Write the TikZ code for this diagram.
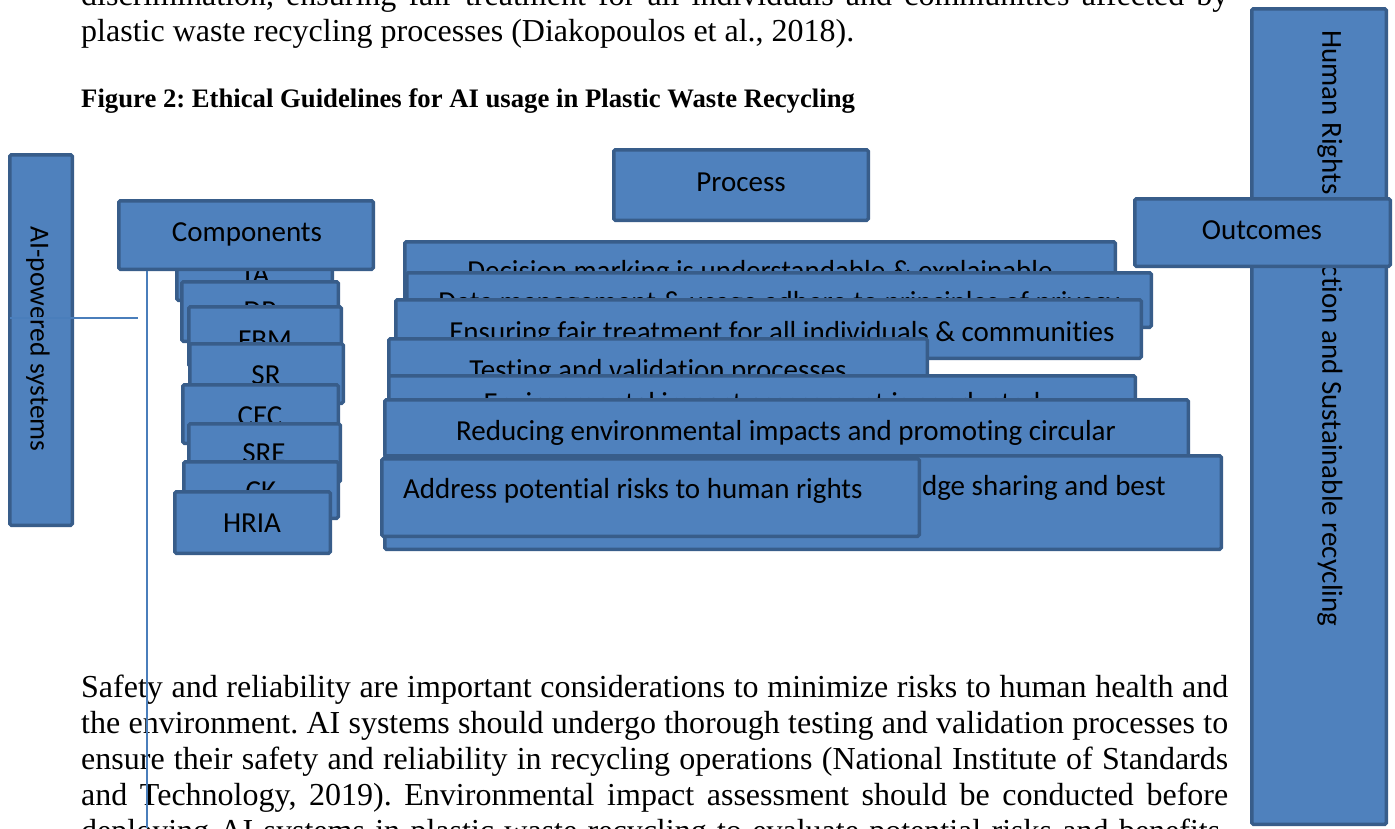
\documentclass[tikz,border=0pt]{standalone}
\usepackage{fontspec}
\setmainfont{Liberation Serif}
\newfontfamily\calfont[Ligatures={NoCommon,NoContextual}]{Carlito}
\usetikzlibrary{fit}
\definecolor{boxfill}{RGB}{79,129,189}
\definecolor{boxline}{RGB}{56,93,138}
\definecolor{connline}{RGB}{74,126,187}
\tikzset{
  box/.style={fill=boxfill, draw=boxline, line width=3.5pt, rounded corners=1.5pt, inner sep=0pt},
  lbl/.style={font=\calfont\fontsize{29}{35}\selectfont, inner sep=0pt, anchor=base, text=black},
  bodytxt/.style={font=\fontsize{32}{36}\selectfont, inner sep=0pt, anchor=base west, text=black},
  captxt/.style={font=\bfseries\fontsize{26.7}{32}\selectfont, inner sep=0pt, anchor=base west, text=black},
  conn/.style={draw=connline, line width=1.5pt},
}
\frenchspacing
\newcommand\mybox[5]{\node[box, fit={(#2+1.75,#3+1.75)(#4-1.75,#5-1.75)}] (#1) {};}
\newcommand\jline[1]{\hbox to 1147pt{\frenchspacing\spaceskip=0.25em plus 1fil minus 0.1em\relax #1}}
\begin{document}
\begin{tikzpicture}[x=1pt,y=-1pt]
\useasboundingbox (0,0) rectangle (1395,828);
\fill[white] (0,0) rectangle (1395,828);
\clip (0,0) rectangle (1395,828);

% surrounding text
\node[bodytxt] (p1) at (81,5) {\jline{discrimination, ensuring fair treatment for all individuals and communities affected by}};
\node[bodytxt] (p2) at (81,41) {plastic waste recycling processes (Diakopoulos et al., 2018).};
\node[captxt] (cap) at (81,107) {Figure 2: Ethical Guidelines for AI usage in Plastic Waste Recycling};
\node[bodytxt] (b1) at (81,697) {\jline{Safety and reliability are important considerations to minimize risks to human health and}};
\node[bodytxt] (b2) at (81,733) {\jline{the environment. AI systems should undergo thorough testing and validation processes to}};
\node[bodytxt] (b3) at (81,769) {\jline{ensure their safety and reliability in recycling operations (National Institute of Standards}};
\node[bodytxt] (b4) at (81,805) {\jline{and Technology, 2019). Environmental impact assessment should be conducted before}};
\node[bodytxt] (b5) at (81,841) {\jline{deploying AI systems in plastic waste recycling to evaluate potential risks and benefits.}};

% left box
\mybox{ai}{8}{153}{74}{527}
\node[lbl, font=\calfont\fontsize{27.5}{33}\selectfont, rotate=-90, anchor=center] (tai) at (38,339) {AI-powered systems};

% components stack
\mybox{cTA}{175}{240}{334}{302}
\node[lbl] (tTA) at (255,283) {TA};
\mybox{cDP}{180}{280}{340}{343}
\node[lbl] (tDP) at (260,320) {DP};
\mybox{cFBM}{187}{305}{343}{368}
\node[lbl] (tFBM) at (265,349) {FBM};
\mybox{cSR}{188}{342}{345}{405}
\node[lbl] (tSR) at (266,384) {SR};
\mybox{cCEC}{181}{383}{340}{445}
\node[lbl] (tCEC) at (260,425) {CEC};
\mybox{cSRE}{187}{422}{342}{484}
\node[lbl] (tSRE) at (264,462) {SRE};
\mybox{cCK}{182}{460}{340}{520}
\node[lbl] (tCK) at (261,500) {CK};
\mybox{cHRIA}{173}{490}{332}{555}
\node[lbl] (tHRIA) at (252,532) {HRIA};
\mybox{comp}{117}{199}{375}{271}
\node[lbl] (tcomp) at (247,241) {Components};

% process
\mybox{proc}{612}{148}{870}{222}
\node[lbl] (tproc) at (741,191) {Process};

\mybox{d1}{403}{240}{1117}{302}
\node[lbl] (td1) at (760,280) {Decision marking is understandable \& explainable};
\mybox{d2}{405}{271}{1153}{329}
\node[lbl] (td2) at (779,311) {Data management \& usage adhere to principles of privacy};
\mybox{d3}{394}{298}{1143}{360}
\node[lbl] (td3) at (782,341) {Ensuring fair treatment for all individuals \& communities};
\mybox{d4}{387}{337}{929}{400}
\node[lbl] (td4) at (658,379) {Testing and validation processes};
\mybox{d5}{387}{374}{1137}{430}
\node[lbl] (td5) at (762,412) {Environmental impact assessment is conducted};
\mybox{d6}{383}{398}{1190}{458}
\node[lbl] (td6) at (786,440) {Reducing environmental impacts and promoting circular};
\mybox{d7}{383}{454}{1223}{551}
\node[lbl, anchor=base east] (td7) at (1166,495) {Encouraging collaboration, knowledge sharing and best};
\mybox{d8}{380}{457}{921}{538}
\node[lbl, anchor=base west] (td8) at (403,498) {Address potential risks to human rights};

% right side
\mybox{hr}{1250}{7}{1388}{826}
\node[lbl, rotate=-90, anchor=west] (thr) at (1330,30) {Human Rights Protection and Sustainable recycling};
\mybox{out}{1133}{197}{1392}{268}
\node[lbl] (tout) at (1262,239) {Outcomes};

% connectors
\coordinate (hs) at (10,318);
\coordinate (he) at (138,318);
\coordinate (ve) at (147,828);
\draw[conn] (hs) -- (he);
\draw[conn] (ve |- comp.south) -- (ve);
\end{tikzpicture}
\end{document}
